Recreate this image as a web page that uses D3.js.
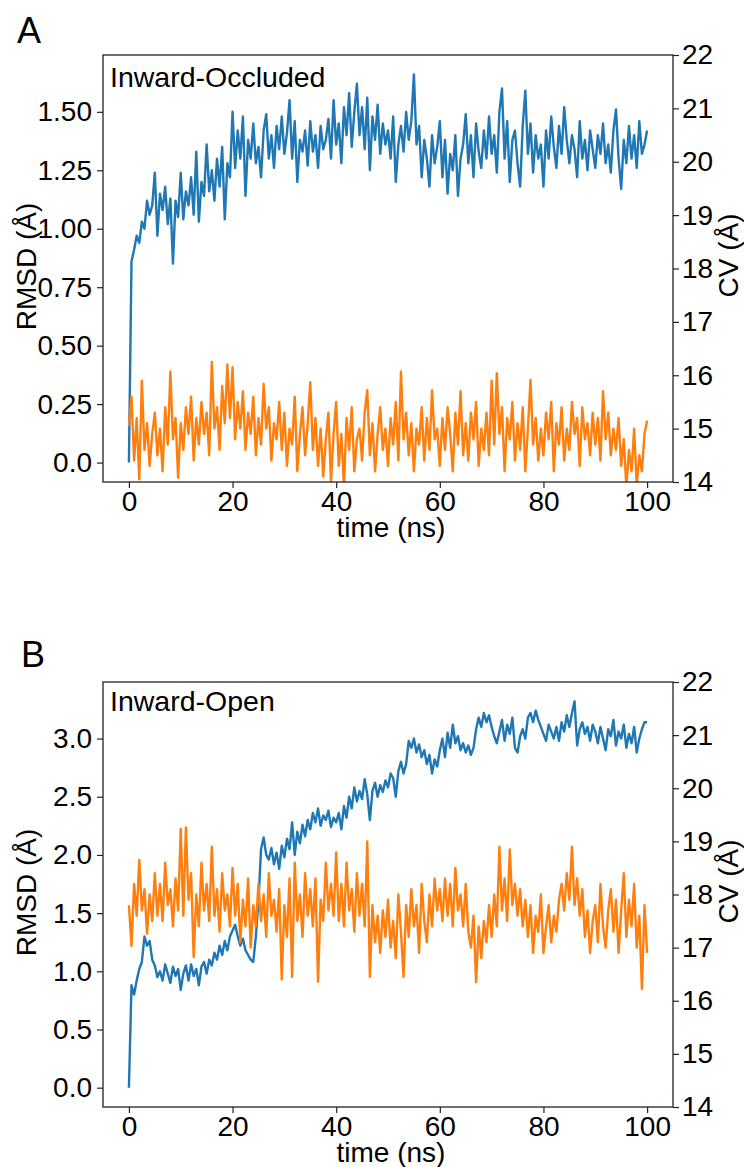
<!DOCTYPE html>
<html>
<head>
<meta charset="utf-8">
<script src="https://cdn.jsdelivr.net/npm/d3@7"></script>
<style>
  body { margin: 0; background: #fff; }
  svg text { font-family: "Liberation Sans", Arial, sans-serif; fill: #000; }
</style>
</head>
<body>
<div id="chart"></div>
<script>
// MD traces, one sample every 0.5 ns (0..100 ns)
const timeStep = 0.5;

const rmsdOccluded = [
  0.00, 0.86, 0.91, 0.97, 0.94, 1.03, 1.00, 1.12, 1.06, 1.10,
  1.24, 0.97, 1.15, 1.08, 1.18, 1.02, 1.13, 0.85, 1.12, 1.05,
  1.24, 1.04, 1.16, 1.10, 1.22, 1.06, 1.33, 1.03, 1.20, 1.14,
  1.36, 1.16, 1.25, 1.12, 1.30, 1.18, 1.35, 1.04, 1.28, 1.22,
  1.50, 1.26, 1.42, 1.30, 1.48, 1.14, 1.38, 1.30, 1.45, 1.28,
  1.35, 1.22, 1.42, 1.49, 1.30, 1.40, 1.26, 1.44, 1.34, 1.48,
  1.32, 1.41, 1.55, 1.30, 1.46, 1.20, 1.38, 1.33, 1.42, 1.27,
  1.46, 1.33, 1.40, 1.26, 1.44, 1.34, 1.38, 1.47, 1.30, 1.55,
  1.36, 1.45, 1.28, 1.52, 1.40, 1.58, 1.35, 1.50, 1.62, 1.40,
  1.52, 1.34, 1.56, 1.25, 1.48, 1.38, 1.53, 1.32, 1.45, 1.36,
  1.42, 1.30, 1.48, 1.20, 1.36, 1.44, 1.33, 1.50, 1.38, 1.46,
  1.66, 1.36, 1.44, 1.22, 1.38, 1.30, 1.18, 1.40, 1.28, 1.35,
  1.46, 1.22, 1.38, 1.15, 1.32, 1.25, 1.40, 1.14, 1.30, 1.36,
  1.49, 1.28, 1.40, 1.22, 1.45, 1.33, 1.26, 1.42, 1.30, 1.48,
  1.32, 1.40, 1.24, 1.50, 1.60, 1.30, 1.46, 1.20, 1.38, 1.42,
  1.28, 1.18, 1.44, 1.59, 1.32, 1.45, 1.24, 1.40, 1.30, 1.36,
  1.18, 1.42, 1.30, 1.48, 1.35, 1.26, 1.44, 1.32, 1.52, 1.38,
  1.28, 1.40, 1.34, 1.22, 1.46, 1.30, 1.38, 1.25, 1.42, 1.34,
  1.26, 1.40, 1.32, 1.45, 1.28, 1.36, 1.24, 1.42, 1.51, 1.30,
  1.17, 1.38, 1.28, 1.44, 1.30, 1.40, 1.26, 1.46, 1.32, 1.36,
  1.42
];

const cvOccluded = [
  15.05, 15.60, 14.40, 15.20, 14.05, 15.90, 14.60, 15.10, 14.30, 14.90,
  15.30, 14.50, 15.00, 14.20, 15.40, 14.70, 16.07, 14.80, 15.20, 14.08,
  15.10, 14.60, 15.40, 14.90, 15.60, 14.40, 15.20, 14.70, 15.50, 14.90,
  15.30, 14.50, 16.25, 15.00, 15.40, 14.60, 15.80, 15.10, 16.20, 15.20,
  16.15, 14.80, 15.50, 15.00, 15.70, 14.60, 15.30, 14.90, 15.60, 14.50,
  15.20, 14.70, 15.84, 15.00, 15.40, 14.40, 15.10, 14.80, 15.50, 14.60,
  15.30, 14.30, 15.00, 14.70, 15.60, 14.20, 14.90, 15.40, 14.50, 15.10,
  15.87, 14.60, 15.20, 14.30, 15.00, 14.10, 14.80, 15.30, 14.00, 14.90,
  15.50, 14.30, 14.90, 13.90, 15.20, 14.60, 15.40, 14.20, 14.80, 15.00,
  14.40, 15.30, 15.72, 14.50, 15.10, 14.20, 14.90, 15.40, 14.60, 15.00,
  14.30, 15.20, 14.70, 15.50, 14.40, 16.07, 14.80, 15.30, 14.50, 15.10,
  14.20, 15.00, 14.70, 15.40, 14.40, 15.20, 14.60, 15.72, 14.80, 15.00,
  14.30, 15.20, 14.60, 15.40, 14.90, 14.20, 15.30, 14.70, 15.70, 14.50,
  15.10, 14.40, 15.30, 14.80, 15.50, 14.30, 15.00, 14.60, 15.30, 14.50,
  15.90, 14.70, 16.04, 14.90, 15.40, 14.20, 15.20, 14.80, 15.50, 14.40,
  15.10, 14.60, 15.40, 14.20, 15.00, 15.91, 14.70, 15.20, 14.40, 15.00,
  14.50, 15.30, 14.80, 15.50, 14.20, 15.10, 14.70, 15.40, 14.40, 15.00,
  14.60, 15.50, 14.90, 15.20, 14.30, 15.40, 14.80, 15.10, 14.50, 15.30,
  14.70, 15.20, 14.40, 15.70, 14.80, 15.30, 14.50, 15.00, 14.60, 15.20,
  14.30, 14.80, 13.90, 14.60, 14.20, 15.00, 13.95, 14.50, 14.20, 14.90,
  15.15
];

const rmsdOpen = [
  0.00, 0.88, 0.80, 0.92, 1.02, 1.08, 1.30, 1.22, 1.26, 1.10,
  1.05, 0.95, 1.00, 0.92, 1.06, 0.98, 0.90, 1.04, 0.96, 1.02,
  0.84, 0.98, 1.05, 0.92, 1.06, 0.96, 1.02, 0.88, 1.04, 1.08,
  0.98, 1.10, 1.05, 1.16, 1.10, 1.22, 1.14, 1.26, 1.18, 1.30,
  1.35, 1.40, 1.30, 1.22, 1.28, 1.18, 1.14, 1.10, 1.08, 1.30,
  1.60, 2.05, 2.15, 2.00, 1.96, 2.06, 1.92, 2.02, 1.88, 2.08,
  1.98, 2.14, 2.05, 2.28, 2.00, 2.20, 2.10, 2.26, 2.16, 2.30,
  2.22, 2.36, 2.28, 2.40, 2.25, 2.34, 2.30, 2.38, 2.24, 2.32,
  2.28, 2.36, 2.22, 2.42, 2.32, 2.50, 2.40, 2.58, 2.46, 2.55,
  2.48, 2.65, 2.52, 2.30, 2.55, 2.62, 2.50, 2.60, 2.54, 2.64,
  2.58, 2.70, 2.66, 2.50, 2.72, 2.80, 2.70, 2.78, 2.98, 2.92,
  3.00, 2.88, 2.95, 2.84, 2.90, 2.78, 2.86, 2.70, 2.82, 2.76,
  2.90, 3.00, 2.84, 3.05, 2.92, 3.12, 2.96, 3.02, 2.90, 2.96,
  2.88, 2.94, 2.86, 2.92, 3.08, 3.18, 3.10, 3.22, 3.14, 3.20,
  3.10, 3.02, 2.96, 3.06, 3.16, 2.98, 3.12, 3.04, 3.18, 2.92,
  2.88, 3.02, 3.08, 3.00, 3.18, 3.22, 3.14, 3.24, 3.16, 3.10,
  3.04, 2.98, 3.12, 3.06, 3.00, 3.10, 2.98, 3.14, 3.06, 3.20,
  3.10, 3.22, 3.32, 2.94, 3.08, 3.14, 3.04, 3.10, 2.98, 3.12,
  3.06, 2.96, 3.10, 3.00, 2.90, 3.08, 3.02, 3.16, 2.94, 3.06,
  3.00, 3.12, 2.92, 3.04, 2.96, 3.10, 2.88, 3.00, 3.08, 3.14,
  3.14
];

const cvOpen = [
  17.80, 17.03, 18.20, 17.60, 18.65, 17.70, 18.10, 17.26, 18.00, 17.50,
  18.40, 17.60, 18.20, 17.50, 18.60, 17.80, 18.10, 17.40, 18.30, 17.70,
  19.24, 17.60, 19.26, 17.90, 18.40, 16.82, 18.00, 17.40, 18.60, 17.70,
  18.20, 17.50, 18.90, 17.60, 18.10, 17.30, 18.40, 17.70, 18.00, 17.40,
  18.50, 17.60, 18.20, 17.10, 17.90, 17.40, 18.30, 17.00, 17.80, 17.40,
  18.20, 17.50, 18.00, 17.20, 18.40, 17.60, 17.90, 17.30, 18.10, 16.40,
  17.80, 17.20, 18.30, 16.45, 18.60, 17.50, 18.00, 17.20, 18.40, 17.60,
  18.10, 17.40, 18.30, 16.36, 17.90, 17.50, 18.60, 17.70, 18.20, 17.60,
  18.79, 17.50, 18.20, 17.40, 18.60, 17.70, 18.10, 17.30, 18.40, 17.60,
  18.20, 17.40, 19.00, 16.45, 17.80, 17.10, 17.60, 16.90, 17.70, 17.20,
  17.90, 17.00, 17.50, 16.80, 18.00, 17.30, 16.45, 17.80, 17.20, 18.10,
  17.40, 17.80, 16.90, 18.20, 17.50, 17.10, 18.00, 17.40, 18.30, 17.70,
  18.10, 17.50, 18.30, 17.60, 18.20, 17.40, 18.50, 17.70, 18.00, 17.40,
  18.20, 17.30, 17.00, 17.60, 16.35, 17.40, 16.80, 17.50, 17.10, 17.80,
  17.20, 18.00, 17.40, 18.90, 17.70, 18.30, 17.50, 18.85, 17.80, 18.20,
  17.60, 18.10, 17.40, 17.90, 17.20, 17.80, 16.90, 17.60, 17.30, 18.00,
  16.90, 17.40, 17.80, 17.10, 17.60, 17.30, 17.90, 18.20, 17.70, 18.40,
  17.90, 18.90, 17.80, 18.30, 17.60, 18.10, 17.20, 17.70, 16.90, 17.50,
  17.80, 17.10, 18.20, 17.40, 17.00, 17.70, 18.10, 17.30, 17.90, 16.90,
  17.70, 18.40, 17.20, 17.90, 17.40, 18.20, 17.00, 17.60, 16.22, 17.80,
  16.90
];

const timeTicks = [0, 20, 40, 60, 80, 100];
const cvTicks = [14, 15, 16, 17, 18, 19, 20, 21, 22];
const cvDomain = [14, 22];
const rmsdTicksOccluded = [0, 0.25, 0.5, 0.75, 1.0, 1.25, 1.5];
const rmsdTickLabelsOccluded = ["0.0", "0.25", "0.50", "0.75", "1.00", "1.25", "1.50"];
const rmsdTicksOpen = [0, 0.5, 1.0, 1.5, 2.0, 2.5, 3.0];
const rmsdTickLabelsOpen = ["0.0", "0.5", "1.0", "1.5", "2.0", "2.5", "3.0"];

const W = 744, H = 1167;
const fontSize = 28;

// matplotlib-style 5% margins
function padded(values) {
  const [lo, hi] = d3.extent(values);
  const m = (hi - lo) * 0.05;
  return [lo - m, hi + m];
}

class DualAxisPanel {
  constructor(config) {
    this.config = config;
  }

  render(svg) {
    const c = this.config;
    const times = c.rmsd.map((d, i) => i * timeStep);

    const x = d3.scaleLinear().domain(padded(times)).range([c.left, c.right]);
    const yL = d3.scaleLinear().domain(padded(c.rmsd)).range([c.bottom, c.top]);
    const yR = d3.scaleLinear().domain(cvDomain).range([c.bottom, c.top]);

    const g = svg.append('g');

    const clipId = 'clip-' + c.letter;
    svg.append('clipPath').attr('id', clipId)
      .append('rect')
      .attr('x', c.left).attr('y', c.top)
      .attr('width', c.right - c.left).attr('height', c.bottom - c.top);

    const lines = g.append('g').attr('clip-path', `url(#${clipId})`);

    lines.append('path')
      .datum(c.rmsd)
      .attr('fill', 'none')
      .attr('stroke', '#1f77b4')
      .attr('stroke-width', 2.4)
      .attr('stroke-linejoin', 'round')
      .attr('d', d3.line().x((d, i) => x(times[i])).y(d => yL(d)));

    lines.append('path')
      .datum(c.cv)
      .attr('fill', 'none')
      .attr('stroke', '#ff7f0e')
      .attr('stroke-width', 2.4)
      .attr('stroke-linejoin', 'round')
      .attr('d', d3.line().x((d, i) => x(times[i])).y(d => yR(d)));

    // frame
    g.append('rect')
      .attr('x', c.left).attr('y', c.top)
      .attr('width', c.right - c.left).attr('height', c.bottom - c.top)
      .attr('fill', 'none')
      .attr('stroke', '#222')
      .attr('stroke-width', 1.3);

    const styleAxis = sel => {
      sel.attr('font-size', fontSize).attr('font-family', null);
      sel.select('.domain').remove();
      sel.selectAll('.tick line').attr('stroke', '#222').attr('stroke-width', 1.2);
      sel.selectAll('.tick text').attr('fill', '#000');
    };

    g.append('g')
      .attr('transform', `translate(0,${c.bottom})`)
      .call(d3.axisBottom(x).tickValues(timeTicks).tickSize(6).tickPadding(3))
      .call(styleAxis);

    g.append('g')
      .attr('transform', `translate(${c.left},0)`)
      .call(d3.axisLeft(yL).tickValues(c.rmsdTicks)
        .tickFormat((d, i) => c.rmsdLabels[i]).tickSize(6).tickPadding(5))
      .call(styleAxis);

    g.append('g')
      .attr('transform', `translate(${c.right},0)`)
      .call(d3.axisRight(yR).tickValues(cvTicks).tickSize(6).tickPadding(3))
      .call(styleAxis);

    // labels
    const mid = (c.top + c.bottom) / 2;
    g.append('text')
      .attr('transform', `translate(36,${mid - 2}) rotate(-90)`)
      .attr('text-anchor', 'middle')
      .attr('font-size', fontSize)
      .text('RMSD (Å)');

    g.append('text')
      .attr('transform', `translate(738,${mid - 13}) rotate(-90)`)
      .attr('text-anchor', 'middle')
      .attr('font-size', fontSize)
      .text('CV (Å)');

    g.append('text')
      .attr('x', (c.left + c.right) / 2 + 3)
      .attr('y', c.bottom + 55)
      .attr('text-anchor', 'middle')
      .attr('font-size', fontSize)
      .text('time (ns)');

    g.append('text')
      .attr('x', c.left + 7)
      .attr('y', c.titleY)
      .attr('font-size', 28.5)
      .text(c.title);

    g.append('text')
      .attr('x', c.letterX)
      .attr('y', c.letterY)
      .attr('font-size', 36)
      .text(c.letter);
  }
}

const svg = d3.select('#chart').append('svg')
  .attr('width', W).attr('height', H)
  .style('background', '#fff');

new DualAxisPanel({
  letter: 'A', letterX: 17, letterY: 43,
  title: 'Inward-Occluded', titleY: 87,
  left: 103, right: 673, top: 55, bottom: 482,
  rmsd: rmsdOccluded, cv: cvOccluded,
  rmsdTicks: rmsdTicksOccluded, rmsdLabels: rmsdTickLabelsOccluded
}).render(svg);

new DualAxisPanel({
  letter: 'B', letterX: 21, letterY: 667,
  title: 'Inward-Open', titleY: 711,
  left: 103, right: 673, top: 682, bottom: 1107,
  rmsd: rmsdOpen, cv: cvOpen,
  rmsdTicks: rmsdTicksOpen, rmsdLabels: rmsdTickLabelsOpen
}).render(svg);
</script>
</body>
</html>
